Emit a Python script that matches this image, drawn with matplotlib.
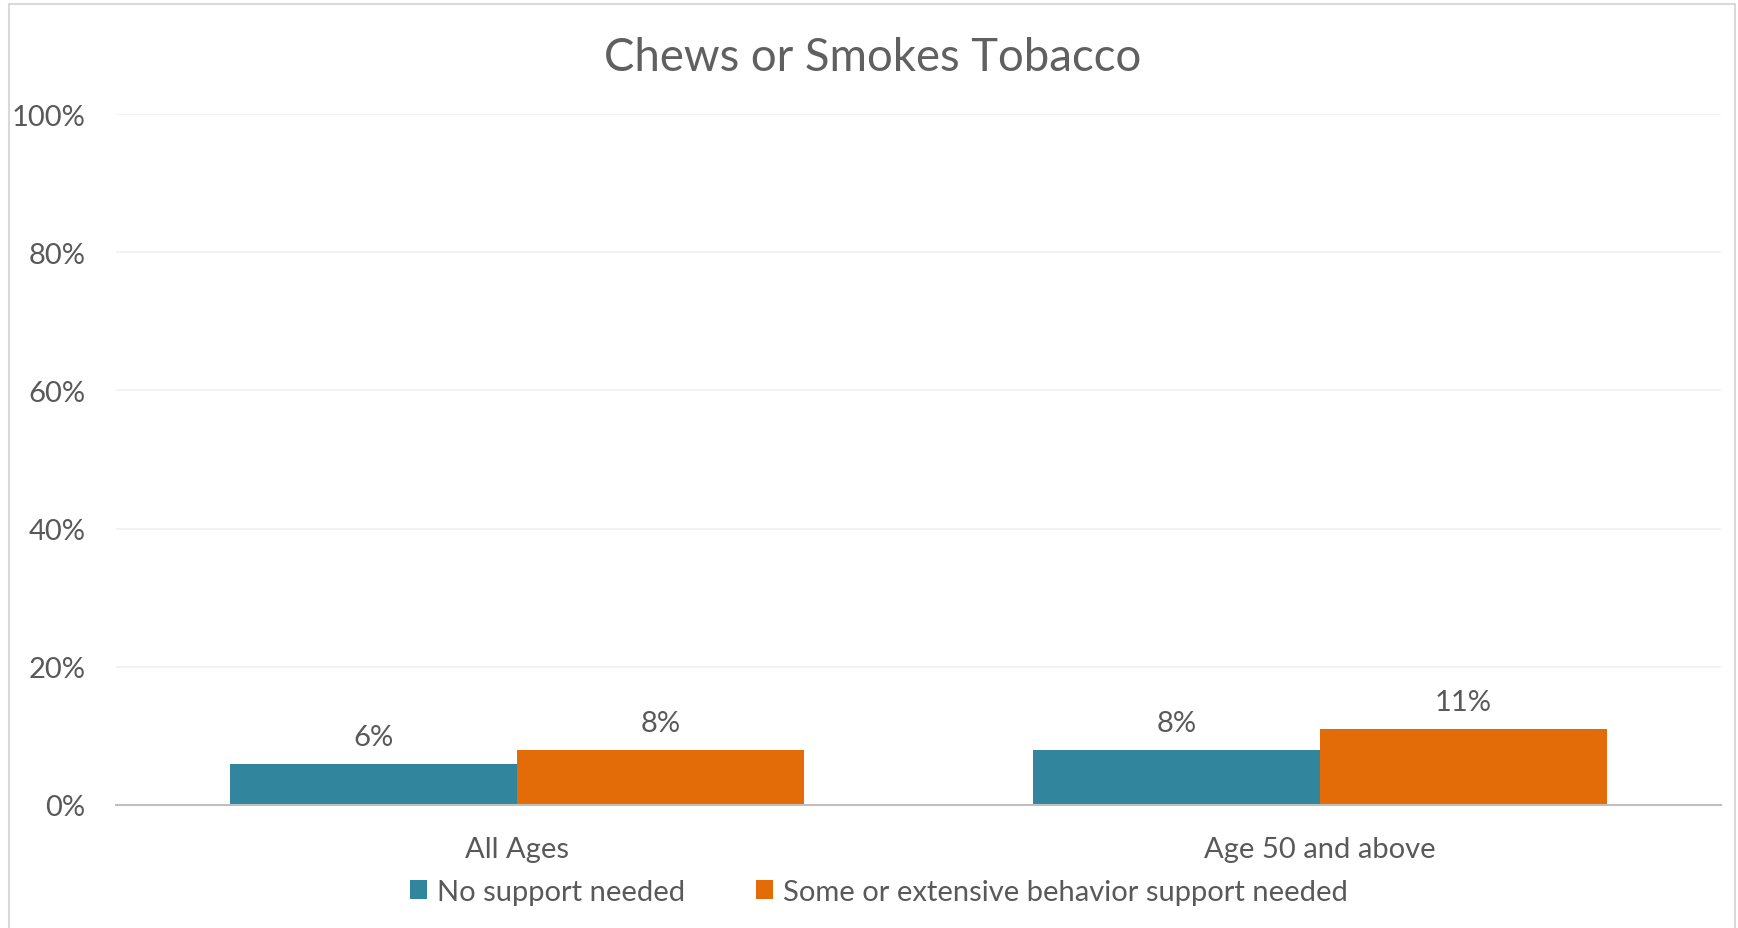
#!/usr/bin/env python

import numpy
import matplotlib
matplotlib.use('Agg')
import matplotlib.pyplot as plt
from matplotlib.patches import Patch, Rectangle

categories = ['All Ages', 'Age 50 and above']
series_names = ['No support needed', 'Some or extensive behavior support needed']
no_support = [6, 8]
some_support = [8, 11]
y_ticks = [0, 20, 40, 60, 80, 100]
y_tick_labels = ['0%', '20%', '40%', '60%', '80%', '100%']
title = 'Chews or Smokes Tobacco'

W, H = 1738, 929
TEAL = '#31859c'
ORANGE = '#e36c09'
TXT = '#595959'
FS = 21

plt.rcParams['font.family'] = ['Lato', 'DejaVu Sans']

fig = plt.figure(figsize=(W / 100.0, H / 100.0), dpi=100)
fig.patch.set_facecolor('white')

# chart border (light gray frame like the office chart)
fig.patches.append(Rectangle((9 / W, -0.1), (1735 - 9) / W, (H - 5) / H + 0.1,
                             transform=fig.transFigure, fill=False,
                             edgecolor='#d9d9d9', linewidth=1.5))

ax = fig.add_axes([116 / W, (H - 806) / H, (1721 - 116) / W, (806 - 115) / H])

x = numpy.arange(len(categories))
bw = 0.3577
b1 = ax.bar(x - bw / 2, no_support, width=bw, color=TEAL, label=series_names[0])
b2 = ax.bar(x + bw / 2, some_support, width=bw, color=ORANGE, label=series_names[1])

ax.bar_label(b1, labels=['{:d}%'.format(v) for v in no_support], padding=10,
             fontsize=FS, color=TXT)
ax.bar_label(b2, labels=['{:d}%'.format(v) for v in some_support], padding=10,
             fontsize=FS, color=TXT)

ax.set_xlim(-0.5, len(categories) - 0.5)
ax.set_ylim(0, 100)
ax.set_yticks(y_ticks)
ax.set_yticklabels(y_tick_labels)
ax.set_xticks(x)
ax.set_xticklabels(categories)
ax.tick_params(axis='y', length=0, pad=22, labelsize=FS, labelcolor=TXT)
ax.tick_params(axis='x', length=0, pad=22, labelsize=FS, labelcolor=TXT)

ax.grid(axis='y', color='#f0f0f0', linewidth=1.2)
ax.set_axisbelow(True)
for s in ['top', 'right', 'left']:
    ax.spines[s].set_visible(False)
ax.spines['bottom'].set_color('#bfbfbf')
ax.spines['bottom'].set_linewidth(1.5)
ax.spines['bottom'].set_zorder(3)

fig.text(873 / W, 1 - 58 / H, title, ha='center', va='center',
         fontsize=32.8, fontweight='normal', color='#606060')

handles = [Patch(facecolor=TEAL, edgecolor='none'),
           Patch(facecolor=ORANGE, edgecolor='none')]
fig.legend(handles, series_names, loc='center', bbox_to_anchor=(879 / W, 1 - 893 / H),
           ncol=2, frameon=False, fontsize=FS, labelcolor=TXT,
           handlelength=0.6, handleheight=0.6, handletextpad=0.35,
           columnspacing=2.4, borderaxespad=0, borderpad=0)

plt.savefig('out.png', dpi=100)
